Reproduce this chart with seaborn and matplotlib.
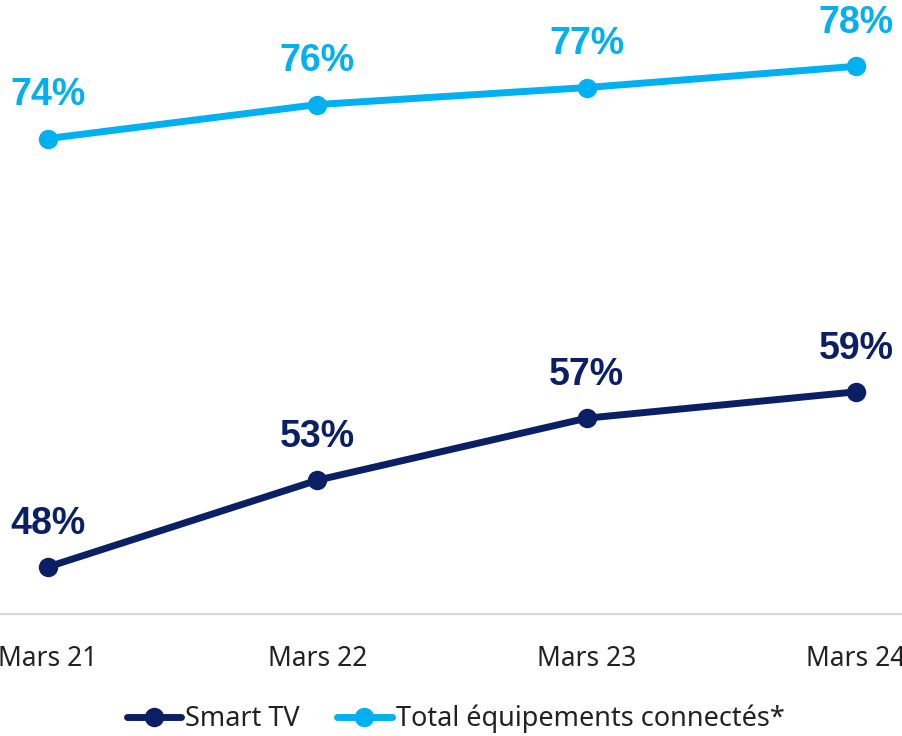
import matplotlib
matplotlib.use("Agg")
import matplotlib.pyplot as plt
import seaborn as sns
import pandas as pd
from matplotlib.lines import Line2D

periods = ["Mars 21", "Mars 22", "Mars 23", "Mars 24"]
smart_tv = [48.35, 53.45, 57.1, 58.65]
total_connectes = [73.55, 75.55, 76.55, 77.8]
series_names = ["Smart TV", "Total équipements connectés*"]
colors = ["#0B1F65", "#00B0F0"]

sns.set_theme(style="white")
plt.rcParams['font.family'] = ['Noto Sans', 'DejaVu Sans']

df = pd.DataFrame({
    "x": list(range(len(periods))) * 2,
    "val": smart_tv + total_connectes,
    "series": [series_names[0]] * len(periods) + [series_names[1]] * len(periods),
})

fig = plt.figure(figsize=(9.02, 7.36), dpi=100)
ax = fig.add_axes([0, 122 / 736, 1, 614 / 736])

sns.lineplot(data=df, x="x", y="val", hue="series", palette=colors,
             marker="o", markersize=14, linewidth=5, markeredgewidth=0,
             ax=ax, legend=False, clip_on=False)

ax.set_xlim(-48 / 269.33, 3 + 46 / 269.33)
ax.set_ylim(45.58, 81.7)

for vals, c in zip([smart_tv, total_connectes], colors):
    for i, v in enumerate(vals):
        ax.annotate(f"{v:.0f}%", (i, v), xytext=(0, 31), textcoords="offset points",
                    ha="center", va="center", fontsize=27, fontweight="bold",
                    color=c, family=["Liberation Sans", "DejaVu Sans"],
                    annotation_clip=False)

ax.set_xticks(range(len(periods)))
ax.set_xticklabels(periods, fontsize=19, color="#222222")
ax.tick_params(axis="x", length=0, pad=22)
ax.set_yticks([])
ax.set_xlabel("")
ax.set_ylabel("")
for s in ["top", "left", "right"]:
    ax.spines[s].set_visible(False)
ax.spines["bottom"].set_color("#D9D9D9")
ax.spines["bottom"].set_linewidth(1.5)

handles = [Line2D([0], [0], color=c, lw=5, marker="o", markersize=14, markeredgewidth=0)
           for c in colors]
fig.legend(handles, series_names, loc="center", bbox_to_anchor=(0.505, 17 / 736),
           ncol=2, frameon=False, fontsize=19.5, handlelength=2.0,
           handletextpad=0.15, columnspacing=1.4, labelcolor="#222222")

fig.savefig("out.png", dpi=100)
